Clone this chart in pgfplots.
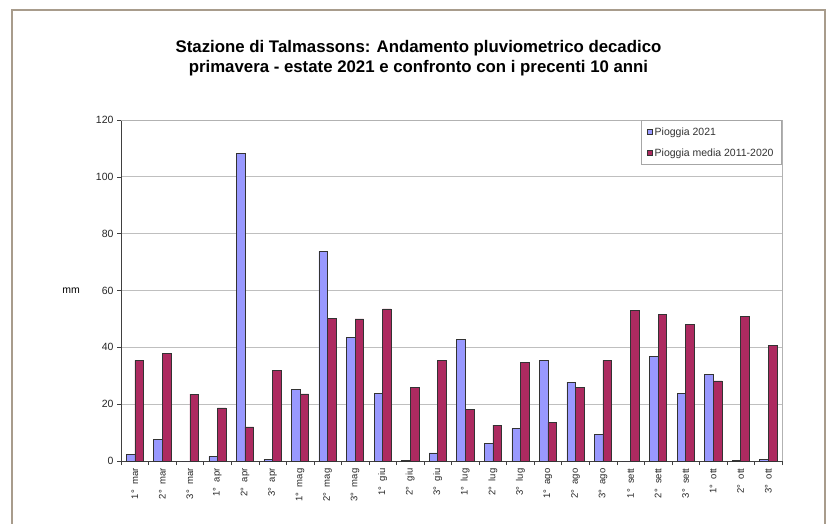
\documentclass[border=0pt]{standalone}
\usepackage{pgfplots}
\pgfplotsset{compat=1.18}
\usepackage{fontspec}
\setmainfont{Liberation Sans}
\definecolor{bblue}{HTML}{9999FF}
\definecolor{bred}{HTML}{AD2A60}
\definecolor{frame}{HTML}{A89C8C}
\pgfplotstableread{
x y2021 ymedia
0 2.3 35.4
1 7.5 38.0
2 0 23.5
3 1.6 18.7
4 108.2 12.0
5 0.6 31.9
6 25.2 23.6
7 73.8 50.1
8 43.5 50.0
9 23.8 53.5
10 0.2 25.8
11 2.9 35.4
12 42.7 18.1
13 6.3 12.6
14 11.4 34.6
15 35.4 13.7
16 27.8 25.8
17 9.3 35.4
18 0 53.1
19 36.9 51.6
20 23.9 48.1
21 30.5 28.2
22 0.1 50.9
23 0.5 40.7
}\datatable
\begin{document}
\begin{tikzpicture}[x=1pt,y=1pt]
\useasboundingbox (0,0) rectangle (830,523);
\draw[frame, line width=1.5pt] (12,-5) -- (12,513) -- (825,513) -- (825,-5);
\begin{axis}[
  at={(121pt,62pt)}, anchor=south west,
  scale only axis, width=661pt, height=341pt,
  ybar=0pt, bar width=8.6pt,
  xmin=-0.5, xmax=23.5,
  ymin=0, ymax=120,
  ytick={0,20,...,120},
  xtick={0,...,23},
  xticklabels={1°\ \ mar,2°\ \ mar,3°\ \ mar,1°\ \ apr,2°\ \ apr,3°\ \ apr,1°\ \ mag,2°\ \ mag,3°\ \ mag,1°\ \ giu,2°\ \ giu,3°\ \ giu,1°\ \ lug,2°\ \ lug,3°\ \ lug,1°\ \ ago,2°\ \ ago,3°\ \ ago,1°\ \ sett,2°\ \ sett,3°\ \ sett,1°\ \ ott,2°\ \ ott,3°\ \ ott},
  minor xtick={-0.5,0.5,...,23.5},
  major x tick style={draw=none},
  minor tick length=4pt,
  major tick length=4pt,
  tick align=outside,
  xtick pos=bottom, ytick pos=left,
  axis x line*=bottom, axis y line*=left,
  axis line style={black!75, line width=0.8pt},
  every tick/.style={black!75},
  ymajorgrids, grid style={gray!50, line width=0.8pt},
  tick label style={font=\fontsize{10.5}{11}\selectfont, text=black!85},
  /pgf/number format/assume math mode=true,
  xticklabel style={rotate=90, anchor=east, font=\fontsize{9.5}{10}\selectfont, yshift=0pt},
  ylabel={mm},
  ylabel style={at={(rel axis cs:0,0.5)}, rotate=-90, anchor=center, xshift=-50pt, font=\fontsize{10.5}{11}\selectfont},
  title={Stazione di Talmassons: Andamento pluviometrico decadico\\primavera - estate 2021 e confronto con i precenti 10 anni},
  title style={at={(rel axis cs:0.5,1)}, anchor=center, yshift=56pt, xshift=-33pt, align=center, font=\bfseries\fontsize{16.8}{20}\selectfont},
  legend style={at={(rel axis cs:1,1)}, anchor=north east, draw=gray!70, font=\fontsize{10.5}{11}\selectfont, text=black!80, row sep=8pt, inner xsep=6pt, inner ysep=5pt, cells={anchor=west}, line width=0.8pt},
  legend image code/.code={\draw[#1, line width=0.4pt] (0pt,-2.6pt) rectangle (5.2pt,2.6pt);},
  clip=false,
]
\addplot[fill=bblue, draw=black!80, line width=0.5pt] table[x=x,y=y2021]{\datatable};
\addplot[fill=bred, draw=black!80, line width=0.5pt] table[x=x,y=ymedia]{\datatable};
\legend{Pioggia 2021, Pioggia media 2011-2020}
\draw[gray!60, line width=0.8pt] (rel axis cs:0,1) -- (rel axis cs:1,1) -- (rel axis cs:1,0);
\end{axis}
\end{tikzpicture}
\end{document}
